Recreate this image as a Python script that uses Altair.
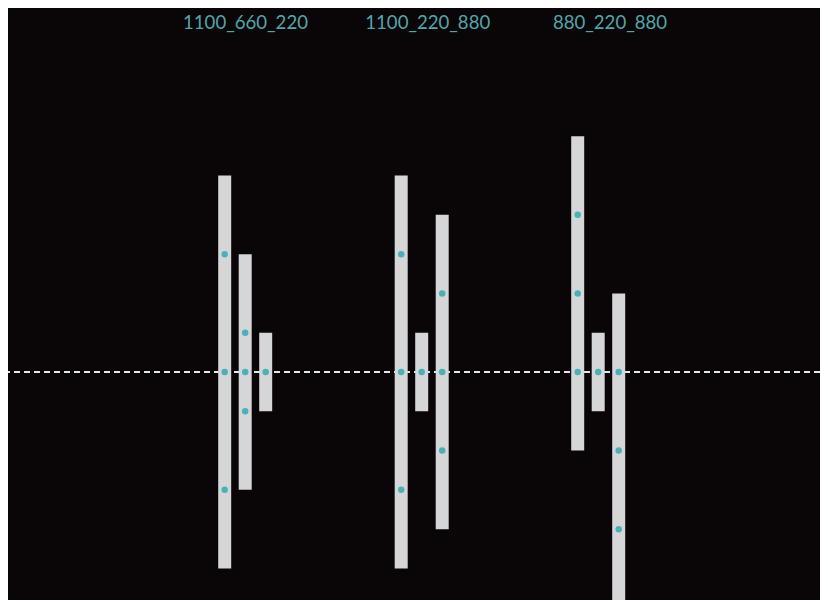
import altair as alt
import pandas as pd

# ---- data ----
groups = ["1100_660_220", "1100_220_880", "880_220_880"]
bar_low = [[-550, -330, -110], [-550, -110, -440], [-220, -110, -660]]
bar_high = [[550, 330, 110], [550, 110, 440], [660, 110, 220]]
dot_values = [
    [[-330, 0, 330], [-110, 0, 110], [0]],
    [[-330, 0, 330], [0], [-220, 0, 220]],
    [[0, 220, 440], [0], [-440, -220, 0]],
]
baseline_value = [0]

bars_rows = []
dots_rows = []
for gi, g in enumerate(groups):
    for bi in range(3):
        bars_rows.append({"group": g, "idx": bi, "lo": bar_low[gi][bi], "hi": bar_high[gi][bi]})
        for v in dot_values[gi][bi]:
            dots_rows.append({"group": g, "idx": bi, "v": v})
bars_df = pd.DataFrame(bars_rows)
dots_df = pd.DataFrame(dots_rows)
labels_df = pd.DataFrame({"group": groups})
base_df = pd.DataFrame({"y": baseline_value})

# ---- styles ----
BG = "#0a0506"
BAR = "#d4d6d8"
DOT = "#4cb0ba"
TXT = "#52a5ad"

x_group = alt.X(
    "group:N",
    sort=groups,
    scale=alt.Scale(domain=groups, range=[148.95, 678.45], paddingInner=0.5779, paddingOuter=0.28895),
    axis=None,
)
x_off = alt.XOffset("idx:O", scale=alt.Scale(paddingInner=0.3659, paddingOuter=0.5))
y_scale = alt.Scale(domain=[-638.4, 907.2], nice=False, zero=False)

rule = alt.Chart(base_df).mark_rule(
    color="#e6e6e6", strokeWidth=2, strokeDash=[6, 4]
).encode(y=alt.Y("y:Q", scale=y_scale, axis=None))

bars = alt.Chart(bars_df).mark_bar(color=BAR, clip=True).encode(
    x=x_group,
    xOffset=x_off,
    y=alt.Y("lo:Q", scale=y_scale, axis=None),
    y2="hi:Q",
)

dots = alt.Chart(dots_df).mark_circle(color=DOT, size=42, opacity=1).encode(
    x=x_group,
    xOffset=x_off,
    y=alt.Y("v:Q", scale=y_scale, axis=None),
)

labels = alt.Chart(labels_df).mark_tick(opacity=0).encode(
    x=alt.X(
        "group:N",
        sort=groups,
        scale=alt.Scale(domain=groups, range=[146.375, 693.125], paddingInner=0, paddingOuter=0),
        axis=alt.Axis(
            orient="top",
            title=None,
            domain=False,
            ticks=False,
            tickSize=0,
            grid=False,
            labelAngle=0,
            labelFont="Lato",
            labelFontSize=18.6,
            labelColor=TXT,
            labelPadding=16,
        ),
    )
)

chart = (
    alt.layer(alt.layer(rule, bars, dots), labels)
    .resolve_scale(x="independent")
    .properties(
        width=812,
        height=552,
        autosize=alt.AutoSizeParams(type="none"),
        padding={"top": 40, "left": 0, "right": 0, "bottom": 0},
        background=BG,
    )
    .configure_view(stroke=None)
)

chart.save("out.html", embed_options={"renderer": "svg", "actions": False})
